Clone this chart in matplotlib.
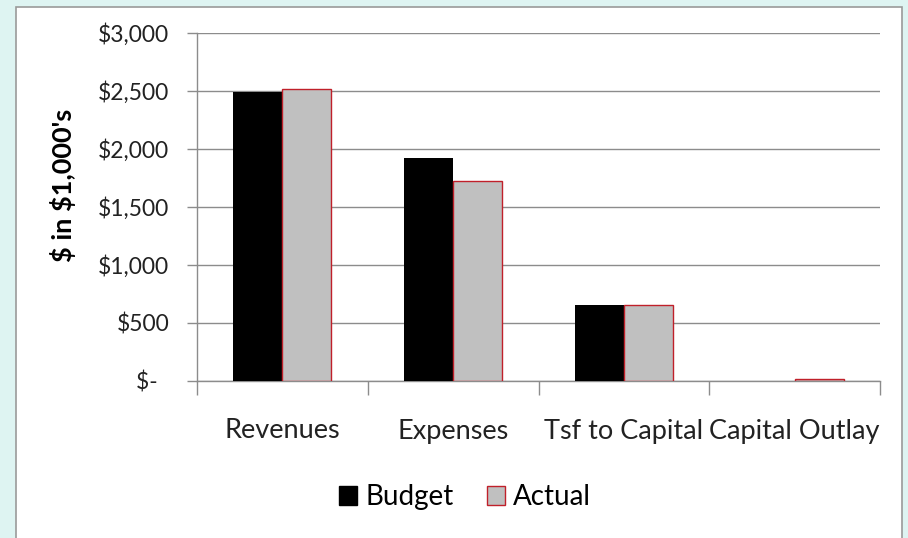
import matplotlib.pyplot as plt
from matplotlib.patches import Rectangle, Patch
from matplotlib.ticker import FuncFormatter

categories = ["Revenues", "Expenses", "Tsf to Capital", "Capital Outlay"]
budget = [2490, 1920, 655, 0]
actual = [2520, 1725, 655, 15]

plt.rcParams['font.family'] = ['Lato', 'DejaVu Sans']

W, H = 908, 538
fig = plt.figure(figsize=(W / 100, H / 100), dpi=100, facecolor='#def4f2')

# white chart frame
fig.patches.append(Rectangle((16 / W, -0.05), (902 - 16) / W, (H - 7) / H + 0.05,
                             transform=fig.transFigure, facecolor='white',
                             edgecolor='#9a9a9a', linewidth=1.2, zorder=-5))

ax = fig.add_axes([197 / W, (H - 381) / H, (880 - 197) / W, (381 - 33) / H])
ax.set_facecolor('none')

w = 0.287
xs = [i + 0.5 for i in range(len(categories))]
ax.bar([x - w / 2 for x in xs], budget, width=w, color='black', zorder=3, label='Budget')
ax.bar([x + w / 2 for x in xs], actual, width=w, color='#c0c0c0', edgecolor='#c0202a',
       linewidth=1.0, zorder=3, label='Actual')

ax.set_xlim(0, 4)
ax.set_ylim(0, 3000)
ax.set_yticks(range(0, 3001, 500))
ax.yaxis.set_major_formatter(FuncFormatter(lambda v, p: "$-  " if v == 0 else f"${v:,.0f}"))
ax.yaxis.grid(True, color='#8c8c8c', linewidth=1.0, zorder=0)

ax.set_xticks(range(5))
ax.set_xticklabels([])
ax.set_xticks(xs, minor=True)
ax.set_xticklabels(categories, minor=True, fontsize=19.5, color='#222222')
ax.tick_params(axis='x', which='major', length=10, color='#8c8c8c', width=1)
ax.tick_params(axis='x', which='minor', length=0, pad=27)
ax.tick_params(axis='y', length=7, color='#8c8c8c', width=1, labelsize=16.5,
               labelcolor='#222222', pad=13)

for s in ['top', 'right']:
    ax.spines[s].set_visible(False)
for s in ['left', 'bottom']:
    ax.spines[s].set_color('#8c8c8c')
    ax.spines[s].set_linewidth(1.0)

ax.set_ylabel("\\$ in \\$1,000's", fontsize=19.5, fontweight='bold', va='center')
ax.yaxis.set_label_coords((63 - 197) / (880 - 197), (381 - 185) / (381 - 33))

handles = [Patch(facecolor='black', edgecolor='black'),
           Patch(facecolor='#c0c0c0', edgecolor='#c0202a')]
fig.legend(handles, ['Budget', 'Actual'], loc='center', bbox_to_anchor=(465 / W, 1 - 497 / H),
           ncol=2, frameon=False, fontsize=20, handlelength=0.65, handleheight=0.65,
           handletextpad=0.3, columnspacing=1.2)

fig.savefig('out.png', dpi=100, facecolor=fig.get_facecolor())
